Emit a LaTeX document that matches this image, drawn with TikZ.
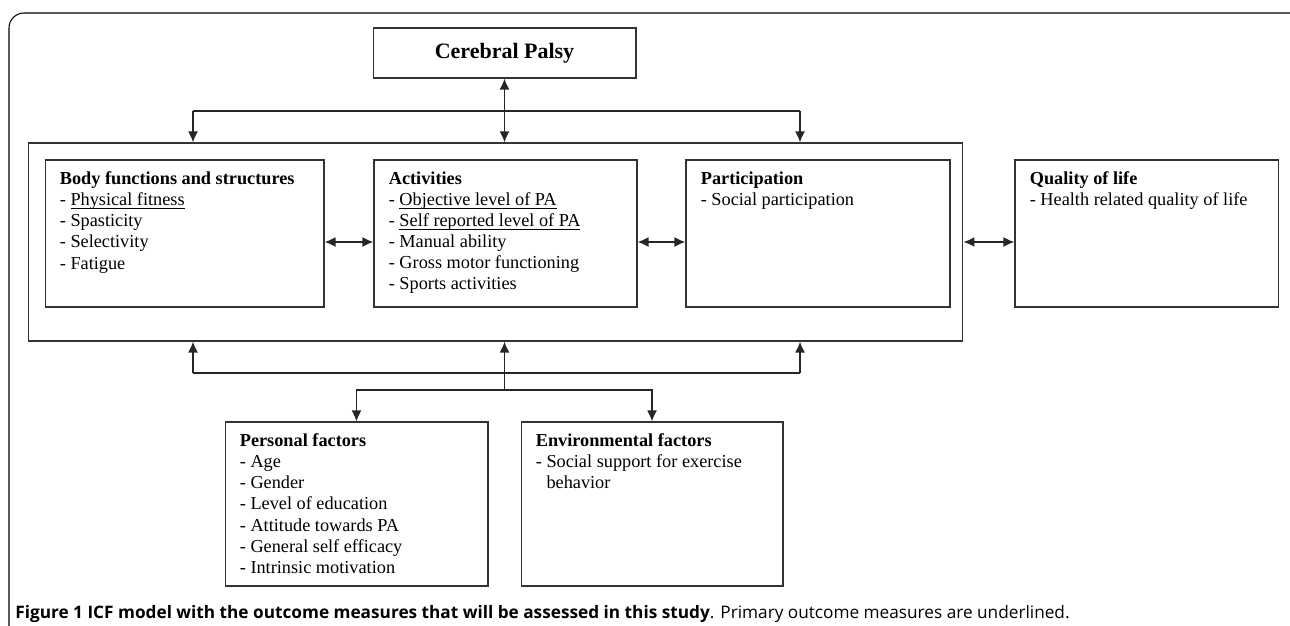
\documentclass[tikz,border=0pt]{standalone}
\usepackage{fontspec}
\setmainfont{Liberation Serif}
\newfontfamily\captionfont{Open Sans}
\usetikzlibrary{positioning,arrows.meta}
\newcommand{\ulText}[1]{\underline{\smash{#1}}}

\begin{document}
\begin{tikzpicture}
    [x=0.02cm, y=-0.02cm,
    font=\fontsize{10.4}{12}\selectfont,
    box/.style={draw=black!80, line width=0.6pt, minimum height=2.94cm,
    inner sep=0pt},
    boxText/.style={anchor=north west, inner sep=0pt, align=left},
    link/.style={draw=black!85, line width=1pt},
    oneArrow/.style={link, -{Latex[length=2.2mm, width=2mm]}},
    biArrow/.style={link, {Latex[length=2.2mm, width=2mm]}-{Latex[length=2.2mm, width=2mm]}}]
    \useasboundingbox (0,0) rectangle (1290,625);
    \clip (0,0) rectangle (1290,625);
    \draw[line width=0.6pt, rounded corners=0.3cm] (9,13) rectangle (1310,660);

    \node[box, minimum width=5.26cm, minimum height=1cm,
        font=\fontsize{12.5}{15}\selectfont\bfseries] (cerebral) at (504.5,53) {Cerebral Palsy};
    \node[box, minimum width=18.7cm, minimum height=3.96cm] (icf) at (495.5,242) {};
    \node[box, minimum width=5.58cm] (body) at (184.5,233.5) {};
    \node[box, minimum width=5.26cm, right=0.98cm of body] (activities) {};
    \node[box, minimum width=5.28cm, right=0.96cm of activities] (participation) {};
    \node[box, minimum width=5.28cm, right=1.28cm of participation] (quality) {};
    \node[box, minimum width=5.26cm, minimum height=3.28cm] (personal) at (356.5,504) {};
    \node[box, minimum width=5.24cm, minimum height=3.28cm] (environ) at (652,504) {};

    \node[boxText] (bodyText) at ([shift={(0.3cm,-0.24cm)}]body.north west)
        {\textbf{Body functions and structures}\\- \ulText{Physical fitness}\\
        - Spasticity\\- Selectivity\\- Fatigue};
    \node[boxText] (activitiesText) at ([shift={(0.3cm,-0.24cm)}]activities.north west)
        {\textbf{Activities}\\- \ulText{Objective level of PA}\\
        - \ulText{Self reported level of PA}\\- Manual ability\\
        - Gross motor functioning\\- Sports activities};
    \node[boxText] (participationText) at ([shift={(0.3cm,-0.24cm)}]participation.north west)
        {\textbf{Participation}\\- Social participation};
    \node[boxText] (qualityText) at ([shift={(0.3cm,-0.24cm)}]quality.north west)
        {\textbf{Quality of life}\\- Health related quality of life};
    \node[boxText] (personalText) at ([shift={(0.3cm,-0.24cm)}]personal.north west)
        {\textbf{Personal factors}\\- Age\\- Gender\\- Level of education\\
        - Attitude towards PA\\- General self efficacy\\- Intrinsic motivation};
    \node[boxText] (environText) at ([shift={(0.3cm,-0.24cm)}]environ.north west)
        {\textbf{Environmental factors}\\- Social support for exercise\\
        \phantom{- }behavior};

    % links to and from cerebral palsy
    \coordinate (topLeft) at (193,111);
    \coordinate (topRight) at (800,111);
    \draw[biArrow] (cerebral.south) -- (cerebral.south |- icf.north);
    \draw[link] (topLeft) -- (topRight);
    \draw[oneArrow] (topLeft) -- (topLeft |- icf.north);
    \draw[oneArrow] (topRight) -- (topRight |- icf.north);

    \draw[biArrow] (body.east |- icf.center) -- (activities.west |- icf.center);
    \draw[biArrow] (activities.east |- icf.center) -- (participation.west |- icf.center);
    \draw[biArrow] (icf.east) -- (quality.west |- icf.east);

    % contextual factors
    \coordinate (botLeft) at (193,373);
    \coordinate (botRight) at (800,373);
    \coordinate (botMid) at (504.5,390);
    \draw[link] (botLeft) -- (botRight);
    \draw[oneArrow] (botLeft) -- (botLeft |- icf.south);
    \draw[oneArrow] (botRight) -- (botRight |- icf.south);
    \draw[oneArrow] (botMid) -- (botMid |- icf.south);
    \draw[oneArrow] (botMid) -| (personal.north);
    \draw[oneArrow] (botMid) -| (environ.north);

    \node[anchor=base west, inner sep=0pt,
        font=\captionfont\fontsize{9.8}{11}\selectfont] (caption) at (15,618)
        {\textbf{Figure 1 ICF model with the outcome measures that will be assessed in this study}.
        Primary outcome measures are underlined.};
\end{tikzpicture}
\end{document}
